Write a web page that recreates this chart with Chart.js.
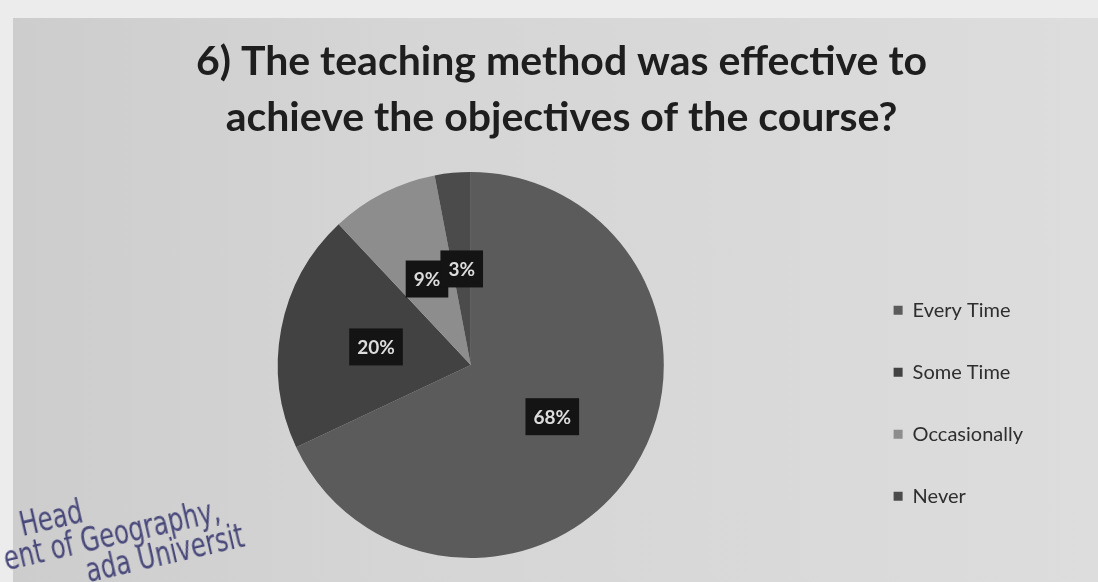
<!DOCTYPE html>
<html>
<head>
<meta charset="utf-8">
<script src="https://cdn.jsdelivr.net/npm/chart.js@4.4.1/dist/chart.umd.min.js"></script>
<style>
  html, body { margin: 0; padding: 0; }
  body {
    width: 1098px; height: 582px; overflow: hidden; position: relative;
    background: #ececec;
  }
  /* printed slide area */
  #slide {
    position: absolute; left: 13px; top: 18px; right: 0; bottom: 0;
    background: linear-gradient(90deg, #cdcdcd 0%, #d5d5d5 35%, #d9d9d9 70%, #dddddd 100%);
  }
  #wrap { position: absolute; left: 0; top: 0; width: 1098px; height: 582px; }
  #stamp {
    position: absolute; left: -6px; top: 516px;
    transform: rotate(-13deg) scaleX(0.82); transform-origin: left top;
    font-family: "DejaVu Sans Condensed", "Liberation Sans Narrow", sans-serif;
    color: #47477a; font-size: 33px; line-height: 30px;
  }
</style>
</head>
<body>
<div id="slide"></div>
<div id="wrap"><canvas id="chart" width="1098" height="582"></canvas></div>
<div id="stamp">&nbsp;&nbsp;&nbsp;Head<br>ent of Geography,<br>&nbsp;&nbsp;&nbsp;&nbsp;&nbsp;&nbsp;&nbsp;&nbsp;&nbsp;&nbsp;ada Universit</div>
<script>
// ── Data ───────────────────────────────────────────────────────────
const titleLines = ['6) The teaching method was effective to', 'achieve the objectives of the course?'];
const categories = ['Every Time', 'Some Time', 'Occasionally', 'Never'];
const shares = [68, 20, 9, 3];
const sliceColors = ['#5b5b5b', '#424242', '#8d8d8d', '#4b4b4b'];

// ── Boxed % labels (dark box, light text) ──────────────────────────
const boxLabels = {
  id: 'boxLabels',
  afterDatasetsDraw(chart) {
    const ctx = chart.ctx;
    const meta = chart.getDatasetMeta(0);
    ctx.save();
    ctx.font = 'bold 19px Lato, "Open Sans", sans-serif';
    ctx.textAlign = 'center';
    ctx.textBaseline = 'middle';
    meta.data.forEach(function (arc, i) {
      const p = arc.tooltipPosition();
      const text = shares[i] + '%';
      const w = ctx.measureText(text).width + 16;
      const h = 37;
      ctx.fillStyle = '#141414';
      ctx.fillRect(p.x - w / 2, p.y - h / 2, w, h);
      ctx.fillStyle = '#dcdcdc';
      ctx.fillText(text, p.x, p.y + 1);
    });
    ctx.restore();
  }
};

// ── Chart ──────────────────────────────────────────────────────────
new Chart(document.getElementById('chart'), {
  type: 'pie',
  data: {
    labels: categories,
    datasets: [{
      data: shares,
      backgroundColor: sliceColors,
      borderWidth: 0,
      hoverOffset: 0,
    }],
  },
  options: {
    responsive: false,
    animation: false,
    layout: { padding: { left: 90, right: 65, top: 0, bottom: 24 } },
    plugins: {
      title: {
        display: true,
        text: titleLines,
        color: '#1e1e1e',
        font: { family: 'Lato, "Open Sans", sans-serif', size: 41, weight: 'bold', lineHeight: '56px' },
        padding: { top: 34, bottom: 26 },
      },
      legend: {
        position: 'right',
        fullSize: false,
        title: { display: true, text: '', padding: { top: 62, bottom: 0 } },
        labels: {
          color: '#2e2e2e',
          boxWidth: 9,
          boxHeight: 9,
          padding: 42,
          font: { family: 'Lato, "Open Sans", sans-serif', size: 20 },
        },
      },
      tooltip: { enabled: false },
    },
  },
  plugins: [boxLabels],
});
</script>
</body>
</html>
